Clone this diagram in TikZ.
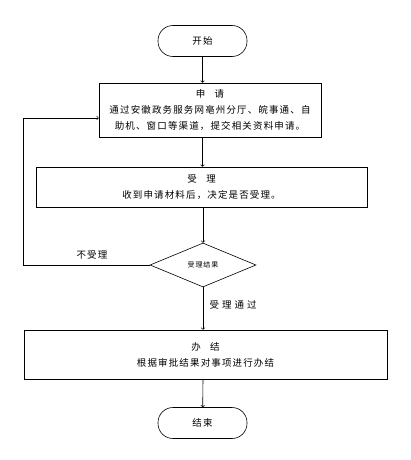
\documentclass[tikz,border=0pt]{standalone}
\usepackage{fontspec}
\setmainfont[LetterSpace=12]{Noto Sans CJK SC}
\usetikzlibrary{shapes.geometric}
\begin{document}
\begin{tikzpicture}[x=1pt,y=-1pt,>=to,line width=0.6pt,
  font=\fontsize{9.5}{16}\selectfont,
  term/.style={draw,rounded corners=15pt,minimum width=89pt,minimum height=31pt,inner sep=0pt},
  stepbox/.style={draw,align=center,inner sep=0pt},
  decide/.style={draw,diamond,minimum width=106pt,minimum height=44pt,inner sep=0pt,
    font=\fontsize{7}{8}\selectfont}]
  \useasboundingbox (0,0) rectangle (410,460);
  \node[term] (start) at (202.5,41) {开始};
  \node[stepbox,minimum width=222pt,minimum height=54pt] (apply) at (210,110)
    {申\hspace{1em}请\\通过安徽政务服务网亳州分厅、皖事通、自\\助机、窗口等渠道，提交相关资料申请。};
  \node[stepbox,minimum width=331pt,minimum height=40pt] (accept) at (201.5,187)
    {受\hspace{1em}理\\收到申请材料后，决定是否受理。};
  \node[decide] (result) at (203,265) {受理结果};
  \node[stepbox,minimum width=363pt,minimum height=49pt] (finish) at (205.5,354.5)
    {办\hspace{1em}结\\根据审批结果对事项进行办结};
  \node[term] (stop) at (202.5,423) {结束};
  \coordinate (back) at (23,118);
  \draw[->] (start) -- (start.south |- apply.north);
  \draw[->] (start.south |- apply.south) -- (start.south |- accept.north);
  \draw[->] (result.north |- accept.south) -- (result.north);
  \draw[->] (result.south) -- (result.south |- finish.north);
  \draw[->] (result.south |- finish.south) -- (stop);
  \draw[->] (result.west) -| (back) -- (back -| apply.west);
  \node (reject) at (92,255) {不受理};
  \node[anchor=west] (pass) at (206,305) {受\hspace{3pt}理\hspace{3pt}通\hspace{3pt}过};
\end{tikzpicture}
\end{document}
